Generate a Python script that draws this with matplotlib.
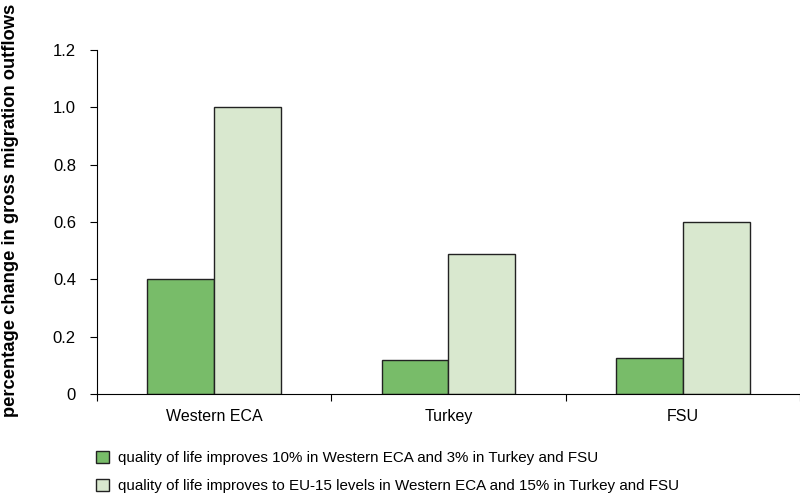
import matplotlib
matplotlib.use("Agg")
import matplotlib.pyplot as plt
import numpy as np
from matplotlib.patches import Patch

categories = ["Western ECA", "Turkey", "FSU"]
series1 = [0.40, 0.12, 0.125]
series2 = [1.00, 0.49, 0.60]
labels = ["quality of life improves 10% in Western ECA and 3% in Turkey and FSU",
          "quality of life improves to EU-15 levels in Western ECA and 15% in Turkey and FSU"]
yticks = [0, 0.2, 0.4, 0.6, 0.8, 1.0, 1.2]
yticklabels = ["0", "0.2", "0.4", "0.6", "0.8", "1.0", "1.2"]

plt.rcParams['font.family'] = ['Liberation Sans', 'DejaVu Sans']

c1 = "#78bc69"
c2 = "#d9e8cf"

fig = plt.figure(figsize=(8, 5), dpi=100)
ax = fig.add_axes([0.121, 0.212, 0.879, 0.688])
x = np.arange(len(categories))
w = 0.285
ax.bar(x - w/2, series1, w, color=c1, edgecolor="#222222", linewidth=1.0)
ax.bar(x + w/2, series2, w, color=c2, edgecolor="#222222", linewidth=1.0)

ax.set_xlim(-0.5, 2.5)
ax.set_ylim(0, 1.2)
ax.set_yticks(yticks)
ax.set_yticklabels(yticklabels, fontsize=12)
ax.set_xticks([-0.5, 0.5, 1.5, 2.5])
ax.set_xticklabels([])
ax.set_xticks(x, minor=True)
ax.set_xticklabels(categories, minor=True, fontsize=11.5)
ax.tick_params(axis='x', which='minor', length=0, pad=11)
ax.tick_params(axis='x', which='major', length=5, direction='out')
ax.tick_params(axis='y', length=5, direction='out', pad=10)
for s in ["top", "right"]:
    ax.spines[s].set_visible(False)
ax.set_ylabel("percentage change in gross migration outflows", fontsize=13.2,
              fontweight='bold')
ax.yaxis.set_label_coords(-0.11, 0.535)

handles = [Patch(facecolor=c1, edgecolor="#222222"), Patch(facecolor=c2, edgecolor="#222222")]
fig.legend(handles, labels, loc="upper left", bbox_to_anchor=(0.112, 0.11),
           frameon=False, fontsize=10.9, handlelength=0.85, handleheight=0.85,
           handletextpad=0.6, labelspacing=0.9, borderaxespad=0)

fig.savefig("out.png", dpi=100)
